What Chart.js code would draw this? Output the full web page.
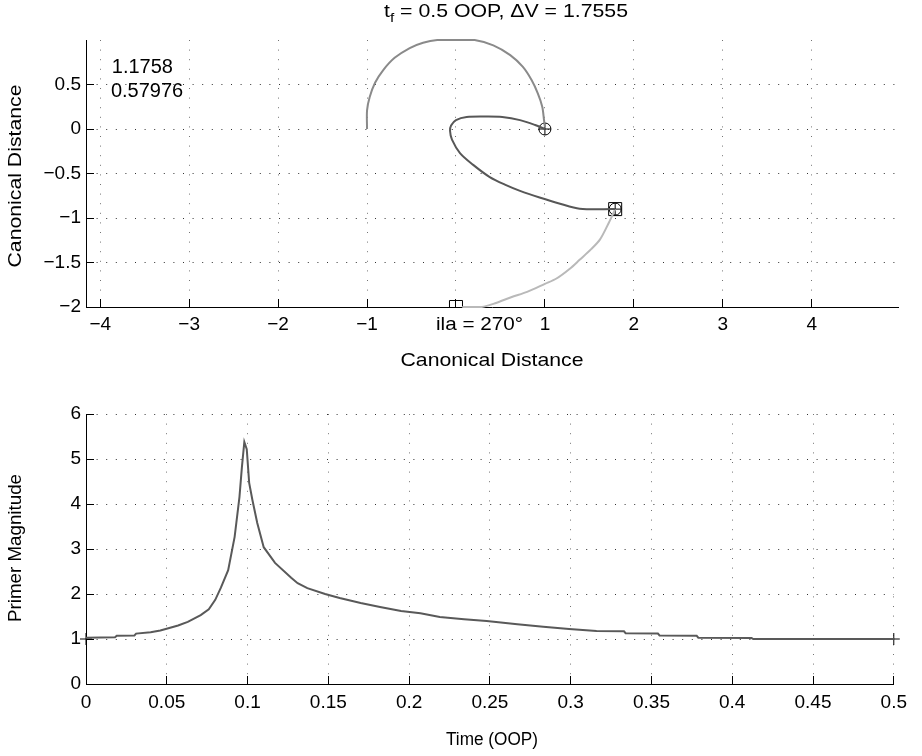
<!DOCTYPE html>
<html>
<head>
<meta charset="utf-8">
<script src="https://cdn.jsdelivr.net/npm/chart.js@4.4.1/dist/chart.umd.min.js"></script>
<style>
  html, body { margin: 0; padding: 0; background: #fff; }
  #wrap { position: relative; width: 922px; height: 756px; }
  canvas { position: absolute; left: 0; }
  #orbitChart { top: 0; }
  #primerChart { top: 380px; }
</style>
</head>
<body>
<div id="wrap">
  <canvas id="orbitChart" width="922" height="380"></canvas>
  <canvas id="primerChart" width="922" height="376"></canvas>
</div>
<script>
// =======================================
// DATA
// =======================================

// top plot: initial orbit arc (medium gray)
const arcX = [-1.0, -1.0, -0.97, -0.91, -0.82, -0.69, -0.52, -0.37, -0.21, 0.0, 0.21, 0.42, 0.61, 0.75, 0.85, 0.92, 0.97, 0.99, 1.0]
const arcY = [0.0, 0.21, 0.36, 0.52, 0.66, 0.80, 0.91, 0.97, 1.0, 1.0, 1.0, 0.94, 0.83, 0.70, 0.55, 0.40, 0.25, 0.10, 0.02]

// top plot: transfer path (dark gray)
const transferX = [1.0, 0.89, 0.72, 0.52, 0.35, 0.12, 0.0, -0.055, -0.067, -0.045, 0.045, 0.19, 0.38, 0.55, 0.72, 0.94, 1.17, 1.39, 1.79]
const transferY = [0.0, 0.045, 0.10, 0.135, 0.14, 0.135, 0.10, 0.04, -0.02, -0.12, -0.27, -0.40, -0.54, -0.625, -0.695, -0.77, -0.84, -0.895, -0.90]

// top plot: final arc (light gray)
const finalX = [1.79, 1.72, 1.62, 1.52, 1.39, 1.28, 1.13, 1.0, 0.80, 0.62, 0.45, 0.29, 0.07]
const finalY = [-0.90, -1.05, -1.24, -1.35, -1.47, -1.57, -1.68, -1.74, -1.83, -1.89, -1.955, -2.0, -2.0]

// top plot markers
const circleMarkX = [1.0, 1.79]
const circleMarkY = [0.0, -0.90]
const squareMarkX = [1.79, 0.0]
const squareMarkY = [-0.90, -2.0]

const orbitXTicks = [-4, -3, -2, -1, 0, 1, 2, 3, 4]
const orbitXLabels = ['\u22124', '\u22123', '\u22122', '\u22121', '', '1', '2', '3', '4']
const orbitYTicks = [-2, -1.5, -1, -0.5, 0, 0.5]
const orbitYLabels = ['\u22122', '\u22121.5', '\u22121', '\u22120.5', '0', '0.5']

// bottom plot: primer vector magnitude
const primerT = [0, 0.018, 0.019, 0.030, 0.031, 0.040, 0.046, 0.051, 0.057, 0.063, 0.071, 0.076, 0.080, 0.0835, 0.088, 0.092, 0.095, 0.0965, 0.098, 0.0995, 0.101, 0.103, 0.106, 0.110, 0.117, 0.127, 0.131, 0.137, 0.148, 0.157, 0.170, 0.182, 0.195, 0.207, 0.219, 0.234, 0.248, 0.267, 0.283, 0.299, 0.316, 0.333, 0.334, 0.354, 0.355, 0.378, 0.379, 0.412, 0.413, 0.5]
const primerMag = [1.03, 1.04, 1.07, 1.08, 1.12, 1.15, 1.19, 1.24, 1.30, 1.38, 1.53, 1.66, 1.87, 2.14, 2.53, 3.27, 4.16, 4.82, 5.38, 5.22, 4.47, 4.09, 3.58, 3.04, 2.69, 2.36, 2.24, 2.13, 2.00, 1.91, 1.80, 1.71, 1.62, 1.57, 1.49, 1.44, 1.40, 1.33, 1.27, 1.22, 1.18, 1.17, 1.13, 1.12, 1.08, 1.07, 1.03, 1.02, 1.00, 1.00]
const plusMarkT = [0, 0.5]
const plusMarkY = [1.0, 1.0]

const primerXTicks = [0, 0.05, 0.1, 0.15, 0.2, 0.25, 0.3, 0.35, 0.4, 0.45, 0.5]
const primerXLabels = ['0', '0.05', '0.1', '0.15', '0.2', '0.25', '0.3', '0.35', '0.4', '0.45', '0.5']
const primerYTicks = [0, 1, 2, 3, 4, 5, 6]
const primerYLabels = ['0', '1', '2', '3', '4', '5', '6']

// =======================================
// HELPERS
// =======================================
const FONT = '"Liberation Sans", Arial, Helvetica, sans-serif'

function toPoints(xs, ys) {
  return xs.map((x, i) => ({ x: x, y: ys[i] }))
}

// text drawn on the canvas, optionally stretched to a target width
function drawLabel(chart, s) {
  const ctx = chart.ctx
  let x = s.x
  let y = s.y
  if (s.dataX !== undefined) x = chart.scales.x.getPixelForValue(s.dataX)
  if (s.dataY !== undefined) y = chart.scales.y.getPixelForValue(s.dataY)
  const parts = s.parts || [{ t: s.text }]

  ctx.save()
  let total = 0
  parts.forEach(p => {
    p.size = p.sub ? s.size * 0.72 : s.size
    ctx.font = p.size + 'px ' + FONT
    p.w = ctx.measureText(p.t).width
    total += p.w
  })
  const sx = s.width ? s.width / total : 1
  ctx.translate(x, y)
  if (s.rotate) ctx.rotate(s.rotate)
  ctx.scale(sx, 1)
  ctx.fillStyle = '#000'
  ctx.textAlign = 'left'
  ctx.textBaseline = s.baseline || 'middle'
  let px = s.align === 'left' ? 0 : -total / 2
  parts.forEach(p => {
    ctx.font = p.size + 'px ' + FONT
    ctx.fillText(p.t, px, p.sub ? s.size * 0.32 : 0)
    px += p.w
  })
  ctx.restore()
}

function textPlugin(items) {
  return {
    id: 'texts',
    afterDraw(chart) {
      items.forEach(item => drawLabel(chart, item))
    }
  }
}

function axis(opts) {
  return {
    type: 'linear',
    min: opts.min,
    max: opts.max,
    afterBuildTicks: scale => {
      scale.ticks = opts.ticks.map(v => ({ value: v }))
    },
    afterFit: scale => {
      if (opts.width) scale.width = opts.width
      if (opts.height) scale.height = opts.height
    },
    ticks: {
      autoSkip: false,
      maxRotation: 0,
      padding: opts.padding,
      color: '#000',
      font: { family: FONT, size: opts.fontSize || 19 },
      callback: (v, i) => opts.labels[i]
    },
    grid: {
      color: opts.gridColor,
      lineWidth: 1,
      drawTicks: true,
      tickLength: -8,
      tickColor: '#000',
      tickWidth: 1
    },
    border: { display: true, color: '#000', width: 1, dash: [1, 8.6] }
  }
}

function lineSet(xs, ys, color, tension) {
  return {
    data: toPoints(xs, ys),
    showLine: true,
    borderColor: color,
    borderWidth: 2,
    pointRadius: 0,
    tension: tension,
    clip: false
  }
}

function markSet(xs, ys, style, radius, clip) {
  return {
    data: toPoints(xs, ys),
    showLine: false,
    pointStyle: style,
    pointRadius: radius,
    pointBorderColor: '#000',
    pointBackgroundColor: 'rgba(0,0,0,0)',
    pointBorderWidth: 1,
    clip: clip
  }
}

const common = {
  responsive: false,
  devicePixelRatio: 1,
  animation: false,
  events: [],
  plugins: { legend: { display: false }, title: { display: false }, tooltip: { enabled: false } }
}

// =======================================
// TOP: orbit geometry
// =======================================
new Chart(document.getElementById('orbitChart'), {
  type: 'scatter',
  data: {
    datasets: [
      lineSet(arcX, arcY, '#8a8a8a', 0.3),
      lineSet(transferX, transferY, '#575757', 0.3),
      lineSet(finalX, finalY, '#b9b9b9', 0.3),
      markSet(circleMarkX, circleMarkY, 'circle', 6, false),
      markSet(circleMarkX, circleMarkY, 'cross', 6, false),
      markSet(squareMarkX, squareMarkY, 'rect', 9.2, 0)
    ]
  },
  options: Object.assign({}, common, {
    layout: { padding: { top: 40, right: 24, left: 0, bottom: 0 } },
    scales: {
      x: axis({ min: -4.16, max: 4.97, ticks: orbitXTicks, labels: orbitXLabels, height: 73, padding: 14, gridColor: 'rgba(0,0,0,0.55)' }),
      y: axis({ min: -2, max: 1.0, ticks: orbitYTicks, labels: orbitYLabels, width: 86, padding: 13, gridColor: 'rgba(0,0,0,0.8)' })
    }
  }),
  plugins: [textPlugin([
    { parts: [{ t: 't' }, { t: 'f', sub: true }, { t: ' = 0.5 OOP, \u0394V = 1.7555' }], x: 506, y: 12, size: 19, width: 244 },
    { text: '1.1758', dataX: -3.87, dataY: 0.633, size: 20, align: 'left', baseline: 'alphabetic' },
    { text: '0.57976', dataX: -3.88, dataY: 0.363, size: 20, align: 'left', baseline: 'alphabetic' },
    { text: 'ila = 270\u00b0', dataX: 0.264, y: 325, size: 19, width: 87 },
    { text: 'Canonical Distance', x: 492, y: 361, size: 19, width: 183 },
    { text: 'Canonical Distance', x: 16, y: 176, size: 19, width: 183, rotate: -Math.PI / 2 }
  ])]
})

// =======================================
// BOTTOM: primer magnitude
// =======================================
new Chart(document.getElementById('primerChart'), {
  type: 'scatter',
  data: {
    datasets: [
      lineSet(primerT, primerMag, '#595959', 0),
      markSet(plusMarkT, plusMarkY, 'cross', 6, false)
    ]
  },
  options: Object.assign({}, common, {
    layout: { padding: { top: 34, right: 24, left: 0, bottom: 0 } },
    scales: {
      x: axis({ min: 0, max: 0.5, ticks: primerXTicks, labels: primerXLabels, height: 72, padding: 15, gridColor: 'rgba(0,0,0,0.55)' }),
      y: axis({ min: 0, max: 6, ticks: primerYTicks, labels: primerYLabels, width: 86, padding: 13, gridColor: 'rgba(0,0,0,0.8)' })
    }
  }),
  plugins: [textPlugin([
    { text: 'Time (OOP)', x: 492, y: 360, size: 18, width: 92 },
    { text: 'Primer Magnitude', x: 16, y: 168, size: 18, width: 148, rotate: -Math.PI / 2 }
  ])]
})
</script>
</body>
</html>
